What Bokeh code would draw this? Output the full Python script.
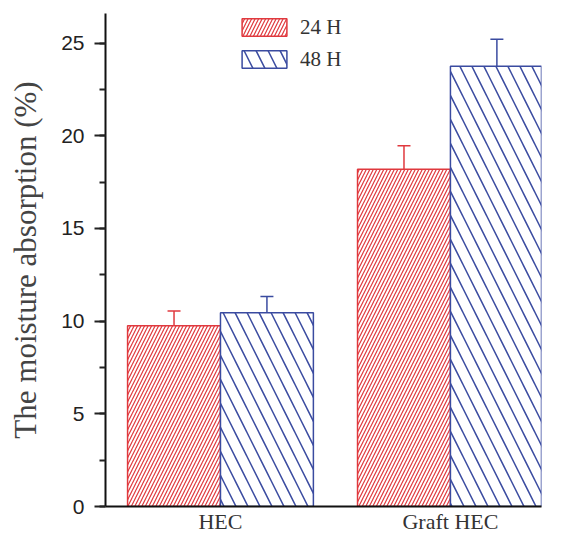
from bokeh.plotting import figure
from bokeh.models import ColumnDataSource, Whisker, TeeHead, Legend, LegendItem, FixedTicker, SingleIntervalTicker, Range1d
from bokeh.embed import file_html
from bokeh.resources import INLINE

categories = ["HEC", "Graft HEC"]
series = ["24 H", "48 H"]
h24 = [9.75, 18.2]
h48 = [10.45, 23.75]
err24 = [0.8, 1.26]
err48 = [0.88, 1.46]

RED = "#e0393e"
BLUE = "#3a4ba0"
width = 0.404
pos = list(range(len(categories)))

p = figure(width=568, height=536, output_backend="svg", toolbar_location=None,
           x_range=Range1d(-0.5, 1.396), y_range=Range1d(0, 26.6),
           min_border_left=105, min_border_right=27, min_border_top=13, min_border_bottom=25)
p.outline_line_color = None
p.xgrid.visible = False
p.ygrid.visible = False
p.background_fill_color = "white"

src24 = ColumnDataSource(dict(x=[i - width / 2 for i in pos], top=h24,
                              upper=[v + e for v, e in zip(h24, err24)],
                              lower=[v - e for v, e in zip(h24, err24)]))
src48 = ColumnDataSource(dict(x=[i + width / 2 for i in pos], top=h48,
                              upper=[v + e for v, e in zip(h48, err48)],
                              lower=[v - e for v, e in zip(h48, err48)]))

r24 = p.vbar(x="x", top="top", width=width, source=src24, fill_color="white",
             line_color=RED, line_width=1.5, hatch_pattern="/", hatch_color=RED,
             hatch_scale=7, hatch_weight=1.2)
r48 = p.vbar(x="x", top="top", width=width, source=src48, fill_color="white",
             line_color=BLUE, line_width=1.5, hatch_pattern="\\", hatch_color=BLUE,
             hatch_scale=24, hatch_weight=1.5)

for src, col in ((src24, RED), (src48, BLUE)):
    w = Whisker(base="x", upper="upper", lower="lower", source=src,
                line_color=col, line_width=1.5,
                upper_head=TeeHead(size=13, line_color=col, line_width=1.5),
                lower_head=TeeHead(size=13, line_color=col, line_width=1.5))
    p.add_layout(w)

legend = Legend(items=[LegendItem(label=series[0], renderers=[r24]),
                       LegendItem(label=series[1], renderers=[r48])],
                location=(131, 434), padding=0, margin=0, spacing=6,
                glyph_width=56, glyph_height=22, label_height=26, label_standoff=8,
                border_line_alpha=0, background_fill_alpha=0,
                label_text_font="Liberation Serif", label_text_font_size="21px",
                label_text_color="#333333")
p.add_layout(legend, "center")

xa = p.xaxis[0]
xa.ticker = FixedTicker(ticks=pos)
xa.major_label_overrides = {i: c for i, c in zip(pos, categories)}
xa.major_tick_out = 0
xa.major_tick_in = 0
xa.minor_tick_out = 0
xa.minor_tick_in = 0
xa.axis_line_width = 2
xa.axis_line_color = "#111111"
xa.major_label_text_font = "Liberation Serif"
xa.major_label_text_font_size = "22px"
xa.major_label_text_color = "#333333"
xa.major_label_standoff = 2

ya = p.yaxis[0]
ya.ticker = SingleIntervalTicker(interval=5, num_minor_ticks=2)
ya.axis_line_width = 2
ya.axis_line_color = "#111111"
ya.major_tick_out = 11
ya.major_tick_in = 0
ya.minor_tick_out = 6
ya.minor_tick_in = 0
ya.major_tick_line_width = 2
ya.minor_tick_line_width = 2
ya.major_tick_line_color = "#222222"
ya.minor_tick_line_color = "#222222"
ya.major_label_text_font = "Liberation Sans"
ya.major_label_text_font_size = "21px"
ya.major_label_text_color = "#222222"
ya.major_label_standoff = 10
ya.axis_label = "The moisture absorption (%)"
ya.axis_label_text_font = "Liberation Serif"
ya.axis_label_text_font_size = "31px"
ya.axis_label_text_font_style = "normal"
ya.axis_label_text_color = "#444444"
ya.axis_label_standoff = 15

open("out.html", "w").write(file_html(p, INLINE))
